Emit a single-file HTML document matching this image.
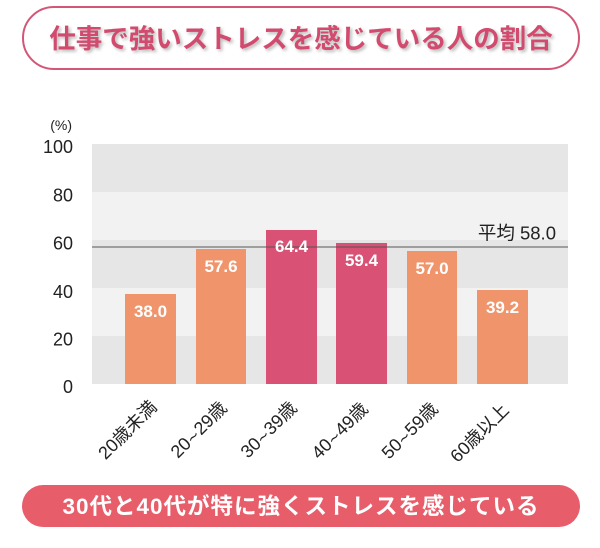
<!DOCTYPE html>
<html><head><meta charset="utf-8">
<style>
html,body{margin:0;padding:0;background:#fff;}
body{width:600px;height:548px;position:relative;overflow:hidden;font-family:"Liberation Sans","Noto Sans CJK JP",sans-serif;}
.title{position:absolute;left:22px;top:6px;width:554px;height:60px;border:2px solid #d45677;border-radius:32px;background:#fff;}
.title span{position:absolute;left:0;right:0;top:0;line-height:62px;text-align:center;font-weight:bold;font-size:26.5px;color:#d24b6e;text-shadow:2px 2px 3px rgba(0,0,0,0.28);white-space:nowrap;}
.banner{position:absolute;left:22px;top:485px;width:558px;height:42px;border-radius:21px;background:#e85d6a;color:#fff;text-align:center;line-height:43px;font-weight:bold;font-size:22.5px;letter-spacing:1px;white-space:nowrap;}
svg{position:absolute;left:0;top:0;}
.t{font-family:"DejaVu Sans",sans-serif;font-size:15px;}
</style></head><body>
<div class="title"><span>仕事で強いストレスを感じている人の割合</span></div>
<svg width="600" height="548" viewBox="0 0 600 548" xmlns="http://www.w3.org/2000/svg" font-family="Liberation Sans, Noto Sans CJK JP, sans-serif">
  <rect x="92" y="144" width="476" height="48" fill="#e6e6e6"/>
  <rect x="92" y="192" width="476" height="48" fill="#f2f2f2"/>
  <rect x="92" y="240" width="476" height="48" fill="#e6e6e6"/>
  <rect x="92" y="288" width="476" height="48" fill="#f2f2f2"/>
  <rect x="92" y="336" width="476" height="48" fill="#e6e6e6"/>
  <g font-size="18" fill="#222" text-anchor="end">
    <text x="73" y="153">100</text>
    <text x="73" y="201.5">80</text>
    <text x="73" y="249.5">60</text>
    <text x="73" y="298">40</text>
    <text x="73" y="345.5">20</text>
    <text x="73" y="393">0</text>
  </g>
  <text x="72" y="130" font-size="14" fill="#222" text-anchor="end">(%)</text>
  <rect x="125" y="294" width="51" height="90" fill="#f0956b"/>
  <rect x="196" y="249" width="50" height="135" fill="#f0956b"/>
  <rect x="266" y="230" width="51" height="154" fill="#d95175"/>
  <rect x="336" y="243" width="51" height="141" fill="#d95175"/>
  <rect x="407" y="251" width="50" height="133" fill="#f0956b"/>
  <rect x="477" y="290" width="51" height="94" fill="#f0956b"/>
  <line x1="92" y1="247" x2="568" y2="247" stroke="#555" stroke-width="1"/>
  <text x="556" y="239.5" font-size="18.5" fill="#222" text-anchor="end">平均 58.0</text>
  <g font-size="17" font-weight="bold" fill="#fff" text-anchor="middle">
    <text x="150.5" y="317">38.0</text>
    <text x="221" y="272">57.6</text>
    <text x="291.5" y="252">64.4</text>
    <text x="361.5" y="266">59.4</text>
    <text x="432" y="274">57.0</text>
    <text x="502.5" y="313">39.2</text>
  </g>
  <g font-size="18" fill="#222" text-anchor="end">
    <text transform="translate(158,408) rotate(-45)">20歳未満</text>
    <text transform="translate(228,409) rotate(-45)">20<tspan class="t">~</tspan>29歳</text>
    <text transform="translate(298,409) rotate(-45)">30<tspan class="t">~</tspan>39歳</text>
    <text transform="translate(369,410) rotate(-45)">40<tspan class="t">~</tspan>49歳</text>
    <text transform="translate(439,410) rotate(-45)">50<tspan class="t">~</tspan>59歳</text>
    <text transform="translate(510,411) rotate(-45)">60歳以上</text>
  </g>
</svg>
<div class="banner">30代と40代が特に強くストレスを感じている</div>
</body></html>
